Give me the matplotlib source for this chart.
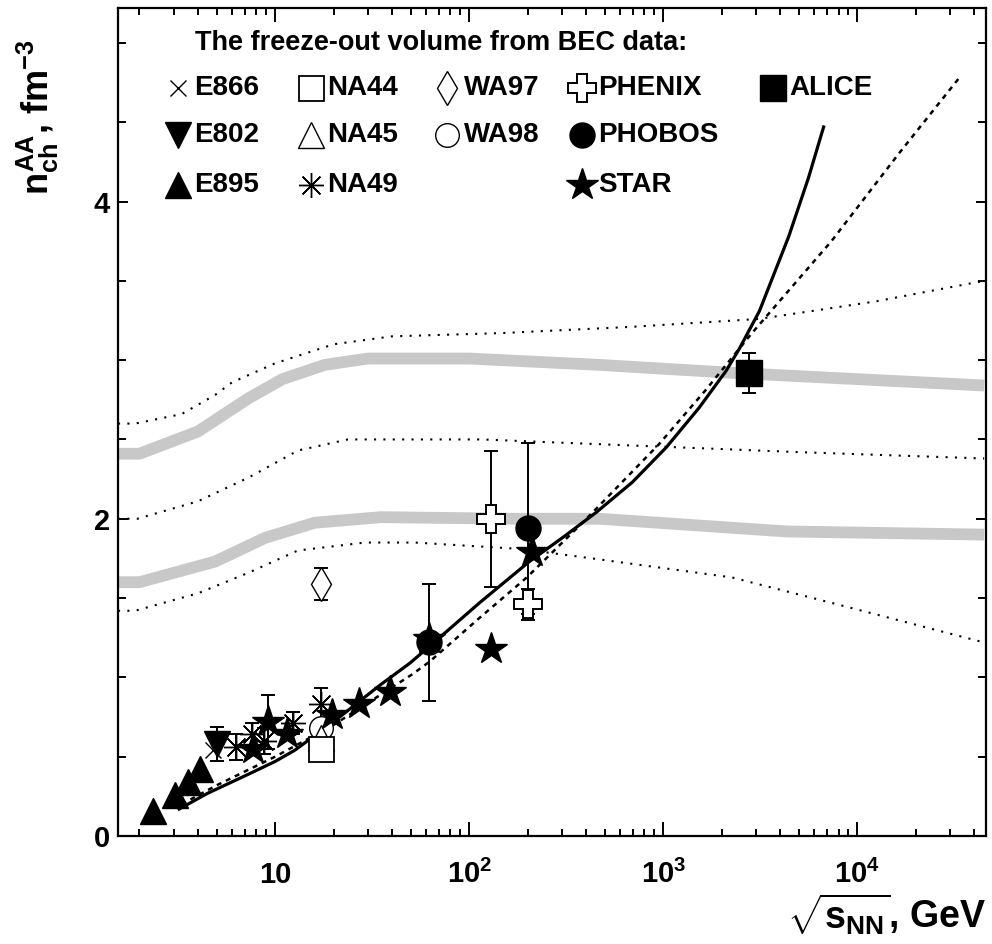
import matplotlib
matplotlib.use("Agg")
import matplotlib.pyplot as plt
from matplotlib.ticker import FixedLocator, NullFormatter, MultipleLocator

plt.rcParams['font.family'] = ['Liberation Sans', 'DejaVu Sans']
plt.rcParams['font.weight'] = 'bold'
plt.rcParams['mathtext.fontset'] = 'custom'
plt.rcParams['mathtext.rm'] = 'Liberation Sans:bold'
plt.rcParams['mathtext.it'] = 'Liberation Sans:bold'
plt.rcParams['mathtext.bf'] = 'Liberation Sans:bold'
plt.rcParams['mathtext.sf'] = 'Liberation Sans:bold'

# data
e866_x = [4.8]
e866_y = [0.54]
e802_x = [5.0]
e802_y = [0.58]
e802_err = [0.11]
e895_x = [2.35, 3.05, 3.55, 4.1]
e895_y = [0.16, 0.26, 0.34, 0.42]
na44_x = [17.3]
na44_y = [0.55]
na44_err = [0.06]
na45_x = [17.3]
na45_y = [0.62]
na49_x = [6.3, 7.6, 8.8, 12.3, 17.3]
na49_y = [0.56, 0.64, 0.60, 0.71, 0.83]
na49_err = [0.08, 0.07, 0.08, 0.07, 0.10]
wa97_x = [17.3]
wa97_y = [1.59]
wa97_err = [0.10]
wa98_x = [17.3]
wa98_y = [0.68]
phenix_x = [130, 200]
phenix_y = [2.0, 1.46]
phenix_err = [0.43, 0.10]
phobos_x = [62.4, 200]
phobos_y = [1.22, 1.94]
phobos_err = [0.37, 0.54]
star_x = [7.7, 9.2, 11.5, 19.6, 27, 39, 62.4, 130, 210]
star_y = [0.55, 0.72, 0.64, 0.76, 0.83, 0.91, 1.24, 1.18, 1.79]
star_err = [0, 0.17, 0, 0, 0, 0, 0, 0, 0]
alice_x = [2760]
alice_y = [2.92]
alice_err = [0.125]

# fit curves
solid_x = [3.2, 4.5, 7.3, 10, 12.6, 20, 34.6, 49.5, 76.6, 113, 204, 302, 451, 692,
           1036, 1530, 2100, 2460, 3130, 4430, 5600, 6700]
solid_y = [0.17, 0.27, 0.39, 0.47, 0.54, 0.72, 0.95, 1.09, 1.29, 1.47, 1.73, 1.88, 2.04, 2.23,
           2.45, 2.70, 2.93, 3.07, 3.31, 3.78, 4.15, 4.47]
dash_x = [3.3, 5, 10, 20, 51, 62.6, 113, 198, 402, 950, 1650, 2860, 7350, 16300, 34000]
dash_y = [0.20, 0.32, 0.50, 0.70, 1.02, 1.10, 1.375, 1.63, 2.0, 2.47, 2.81, 3.17, 3.75, 4.30, 4.79]

# gray bands
band_hi_x = [1.55, 2.0, 4.0, 7.3, 10.9, 18, 30, 100, 469, 2260, 45000]
band_hi_y = [2.41, 2.41, 2.55, 2.76, 2.88, 2.97, 3.01, 3.01, 2.97, 2.92, 2.84]
band_lo_x = [1.55, 2.0, 4.9, 8.9, 16, 35, 171, 469, 4300, 45000]
band_lo_y = [1.60, 1.60, 1.73, 1.88, 1.975, 2.01, 2.0, 2.0, 1.92, 1.90]

# dotted lines
dot_top_x = [1.55, 1.9, 3.3, 4.9, 6.0, 10, 20, 40, 143, 690, 3130, 12400, 45000]
dot_top_y = [2.60, 2.60, 2.66, 2.78, 2.86, 2.98, 3.10, 3.15, 3.17, 3.21, 3.26, 3.37, 3.50]
dot_mid_x = [1.55, 1.95, 4.0, 7.3, 13.1, 23.7, 116, 469, 5000, 45000]
dot_mid_y = [2.0, 2.0, 2.11, 2.26, 2.43, 2.50, 2.50, 2.47, 2.42, 2.38]
dot_low_x = [1.55, 1.9, 4.0, 7.3, 13.1, 29, 52.5, 182, 430, 2260, 7350, 45000]
dot_low_y = [1.42, 1.42, 1.53, 1.66, 1.80, 1.85, 1.85, 1.81, 1.75, 1.63, 1.47, 1.22]

fig = plt.figure(figsize=(9.92, 9.44), dpi=100)
ax = fig.add_axes([118 / 992, 1 - 836 / 944, (986 - 118) / 992, (836 - 8) / 944])
ax.set_xscale('log')

gray = '#c8c8c8'
ax.plot(band_hi_x, band_hi_y, color=gray, lw=8.5, solid_capstyle='butt', zorder=1)
ax.plot(band_lo_x, band_lo_y, color=gray, lw=8.5, solid_capstyle='butt', zorder=1)
for dx, dy in [(dot_top_x, dot_top_y), (dot_mid_x, dot_mid_y), (dot_low_x, dot_low_y)]:
    ax.plot(dx, dy, color='k', lw=1.5, ls=(0, (1, 3.5)), zorder=2)

ax.plot(solid_x, solid_y, color='k', lw=2.3, zorder=3)
ax.plot(dash_x, dash_y, color='k', lw=1.8, ls=(0, (2, 2)), zorder=3)

styles = {
    'E866': dict(marker='x', ms=12, mfc='none', mec='k', mew=1.0),
    'E802': dict(marker='v', ms=19, mfc='k', mec='k', mew=1.0),
    'E895': dict(marker='^', ms=19, mfc='k', mec='k', mew=1.0),
    'NA44': dict(marker='s', ms=18, mfc='white', mec='k', mew=1.3),
    'NA45': dict(marker='^', ms=19, mfc='white', mec='k', mew=1.0),
    'NA49': dict(marker=(8, 2, 0), ms=18, mfc='none', mec='k', mew=1.0),
    'WA97': dict(marker='d', ms=17, mfc='white', mec='k', mew=1.0),
    'WA98': dict(marker='o', ms=17, mfc='white', mec='k', mew=1.0),
    'PHENIX': dict(marker='P', ms=20, mfc='white', mec='k', mew=1.4),
    'PHOBOS': dict(marker='o', ms=18, mfc='k', mec='k', mew=1.0),
    'STAR': dict(marker='*', ms=24, mfc='k', mec='k', mew=1.0),
    'ALICE': dict(marker='s', ms=19, mfc='k', mec='k', mew=1.0),
}

def errs(x, y, e):
    ax.errorbar(x, y, yerr=e, fmt='none', ecolor='k', elinewidth=1.4,
                capsize=5, capthick=1.4, zorder=4)

errs(e802_x, e802_y, e802_err)
errs(na44_x, na44_y, na44_err)
errs(na49_x, na49_y, na49_err)
errs(wa97_x, wa97_y, wa97_err)
errs(phenix_x, phenix_y, phenix_err)
errs(phobos_x, phobos_y, phobos_err)
errs(star_x, star_y, star_err)
errs(alice_x, alice_y, alice_err)

series = [
    ('WA98', wa98_x, wa98_y), ('NA45', na45_x, na45_y), ('NA44', na44_x, na44_y),
    ('E866', e866_x, e866_y), ('NA49', na49_x, na49_y), ('WA97', wa97_x, wa97_y),
    ('E895', e895_x, e895_y), ('E802', e802_x, e802_y), ('PHENIX', phenix_x, phenix_y),
    ('PHOBOS', phobos_x, phobos_y), ('STAR', star_x, star_y), ('ALICE', alice_x, alice_y),
]
for i, (name, sx, sy) in enumerate(series):
    ax.plot(sx, sy, ls='none', zorder=5 + i, **styles[name])

# hand-placed legend
ax.text(0.089, 0.958, 'The freeze-out volume from BEC data:', transform=ax.transAxes,
        fontsize=19.5, fontweight='bold', va='center', ha='left')
legend = [
    ('E866', 178, 88), ('E802', 178, 135), ('E895', 178, 185),
    ('NA44', 311, 88), ('NA45', 311, 135), ('NA49', 311, 185),
    ('WA97', 447, 88), ('WA98', 447, 135),
    ('PHENIX', 582, 88), ('PHOBOS', 582, 135), ('STAR', 582, 185),
    ('ALICE', 773, 88),
]
for name, px, py in legend:
    axx = (px - 118) / 868
    axy = (836 - py) / 828
    ax.plot([axx], [axy], transform=ax.transAxes, clip_on=False, ls='none', **styles[name])
    ax.text(axx + 0.019, axy, name, transform=ax.transAxes, fontsize=20,
            fontweight='bold', va='center', ha='left')

ax.set_xlim(1.55, 46000)
ax.set_ylim(0, 5.22)

ax.xaxis.set_major_locator(FixedLocator([10, 100, 1000, 10000]))
ax.set_xticklabels(['10', r'$10^{2}$', r'$10^{3}$', r'$10^{4}$'])
ax.xaxis.set_minor_locator(FixedLocator([2, 3, 4, 5, 6, 7, 8, 9, 20, 30, 40, 50, 60, 70, 80, 90,
                                         200, 300, 400, 500, 600, 700, 800, 900,
                                         2000, 3000, 4000, 5000, 6000, 7000, 8000, 9000,
                                         20000, 30000, 40000]))
ax.xaxis.set_minor_formatter(NullFormatter())
ax.yaxis.set_major_locator(MultipleLocator(2))
ax.yaxis.set_minor_locator(MultipleLocator(0.5))
ax.set_yticklabels([], minor=True)

ax.tick_params(which='both', direction='in', top=True, right=True, width=1.4)
ax.tick_params(axis='x', which='major', length=10, labelsize=21, pad=34)
ax.tick_params(axis='x', which='minor', length=5)
ax.tick_params(axis='y', which='major', length=7, labelsize=21, pad=6)
ax.tick_params(axis='y', which='minor', length=6)
for lab in ax.get_xticklabels():
    lab.set_va('baseline')
    lab.set_fontweight('bold')
for lab in ax.get_yticklabels():
    lab.set_fontweight('bold')
for sp in ax.spines.values():
    sp.set_linewidth(1.6)

fig.text(38 / 992, 1 - 117 / 944, r'$n^{AA}_{ch}$, fm$^{-3}$', rotation=90, fontsize=26,
         fontweight='bold', ha='center', va='center')
fig.text(986 / 992, 1 - 915 / 944, r'$\sqrt{s_{NN}}$, GeV', fontsize=27,
         fontweight='bold', ha='right', va='center')

fig.savefig('out.png', dpi=100)
